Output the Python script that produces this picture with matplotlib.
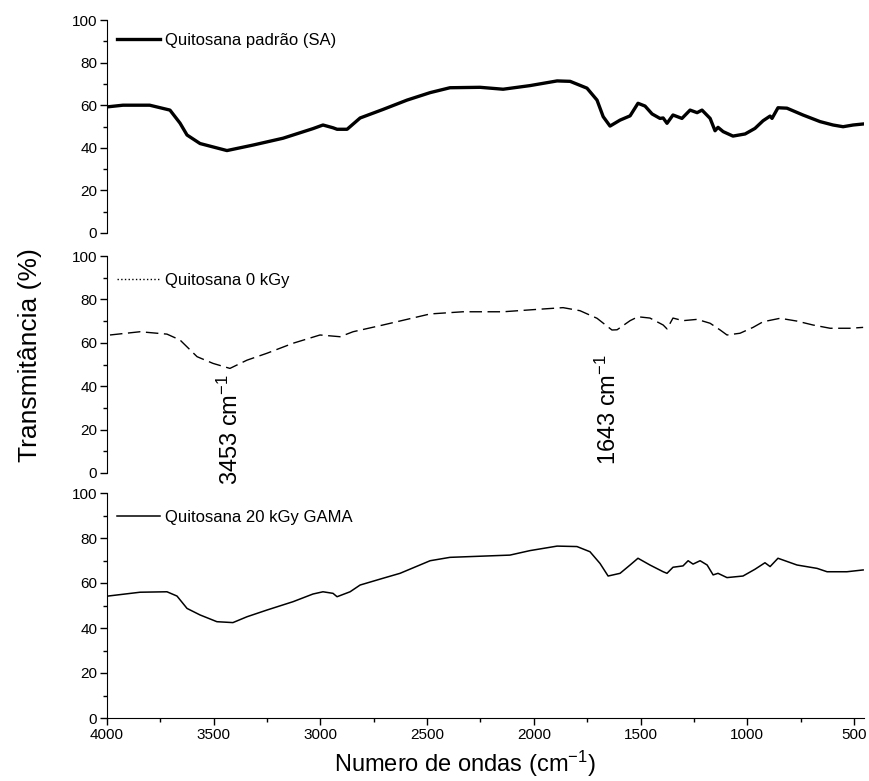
import matplotlib
matplotlib.use("Agg")
import matplotlib.pyplot as plt
from matplotlib.lines import Line2D
from matplotlib.ticker import MultipleLocator

plt.rcParams['font.family'] = ['Liberation Sans', 'DejaVu Sans']
plt.rcParams['mathtext.fontset'] = 'custom'
plt.rcParams['mathtext.rm'] = 'Liberation Sans'
plt.rcParams['mathtext.it'] = 'Liberation Sans'

# Quitosana padrão (SA)
wn_sa = [4000, 3925, 3800, 3705, 3658, 3625, 3564, 3438, 3315, 3175, 3035, 2988, 2941,
         2922, 2875, 2814, 2707, 2594, 2486, 2393, 2252, 2144, 2018, 1891, 1830, 1751,
         1704, 1675, 1643, 1596, 1549, 1512, 1479, 1446, 1409, 1394, 1376, 1348, 1306,
         1268, 1235, 1212, 1174, 1151, 1137, 1113, 1067, 1010, 964, 926, 893, 884, 856,
         814, 739, 659, 598, 551, 504, 455]
t_sa = [59.2, 60.0, 60.0, 57.7, 51.6, 46.0, 42.0, 38.7, 41.3, 44.5, 49.0, 50.7, 49.4,
        48.7, 48.7, 54.0, 58.0, 62.4, 65.9, 68.2, 68.4, 67.5, 69.2, 71.4, 71.2, 68.0,
        62.4, 54.6, 50.2, 53.0, 55.0, 60.9, 59.6, 55.9, 53.8, 54.0, 51.5, 55.4, 53.8,
        57.7, 56.5, 57.7, 53.8, 48.0, 49.6, 47.6, 45.5, 46.5, 49.1, 52.7, 54.9, 53.8, 58.8,
        58.6, 55.4, 52.3, 50.7, 49.9, 50.7, 51.2]

# Quitosana 0 kGy
wn_0 = [3986, 3845, 3719, 3658, 3578, 3503, 3424, 3344, 3250, 3128, 3002, 2908, 2847,
        2707, 2486, 2332, 2144, 1985, 1863, 1784, 1704, 1634, 1610, 1549, 1512, 1456,
        1394, 1376, 1348, 1301, 1235, 1174, 1127, 1095, 1034, 973, 926, 846, 767, 692,
        612, 519, 457]
t_0 = [63.6, 65.1, 64.0, 61.3, 53.6, 50.5, 48.2, 52.0, 55.2, 59.8, 63.6, 62.8, 65.1,
       68.2, 73.3, 74.3, 74.3, 75.4, 76.2, 74.8, 71.3, 65.9, 66.0, 70.2, 72.0, 71.4,
       68.2, 66.4, 71.4, 70.2, 70.8, 69.0, 65.9, 63.6, 64.4, 67.1, 69.7, 71.3, 70.0, 68.2,
       66.7, 66.7, 67.1]

# Quitosana 20 kGy GAMA
wn_20 = [3995, 3845, 3719, 3672, 3625, 3564, 3485, 3410, 3344, 3250, 3128, 3035, 2988,
         2941, 2922, 2861, 2814, 2707, 2627, 2486, 2393, 2112, 2018, 1891, 1798, 1737,
         1690, 1652, 1596, 1549, 1512, 1456, 1394, 1376, 1348, 1301, 1277, 1254, 1221,
         1188, 1160, 1137, 1095, 1020, 964, 917, 893, 856, 767, 673, 626, 533, 457]
t_20 = [54.2, 55.9, 56.1, 54.2, 48.7, 45.8, 42.8, 42.4, 45.0, 48.0, 51.7, 55.1, 56.1,
        55.4, 53.9, 56.1, 59.1, 62.1, 64.3, 69.9, 71.4, 72.4, 74.4, 76.4, 76.2, 73.9,
        68.7, 63.1, 64.3, 68.0, 71.0, 68.0, 65.0, 64.3, 67.0, 67.6, 69.9, 68.4, 69.9,
        68.0, 63.6, 64.3, 62.4, 63.1, 66.1, 69.0, 67.3, 71.0, 68.0, 66.5, 65.0, 65.0, 65.8]

labels = ['Quitosana padrão (SA)', 'Quitosana 0 kGy', 'Quitosana 20 kGy GAMA']

W, H = 870, 781
fig = plt.figure(figsize=(8.7, 7.81), dpi=100)

def box(top, bottom):
    return [107 / W, 1 - bottom / H, (864 - 107) / W, (bottom - top) / H]

ax1 = fig.add_axes(box(20, 233))
ax2 = fig.add_axes(box(256, 473))
ax3 = fig.add_axes(box(493, 718))

ax1.plot(wn_sa, t_sa, color='black', lw=2.4)
ax2.plot(wn_0, t_0, color='black', lw=1.0, dashes=(9, 4))
ax3.plot(wn_20, t_20, color='black', lw=1.1)

handles = [Line2D([], [], color='black', lw=2.4),
           Line2D([], [], color='black', lw=1.0, ls=':'),
           Line2D([], [], color='black', lw=1.1)]

for ax, h, lab, top in zip([ax1, ax2, ax3], handles, labels, [0.985, 0.97, 0.97]):
    ax.set_xlim(4000, 453)
    ax.set_ylim(0, 100)
    ax.yaxis.set_major_locator(MultipleLocator(20))
    ax.yaxis.set_minor_locator(MultipleLocator(10))
    ax.xaxis.set_major_locator(MultipleLocator(500))
    ax.xaxis.set_minor_locator(MultipleLocator(250))
    ax.spines['top'].set_visible(False)
    ax.spines['right'].set_visible(False)
    ax.tick_params(axis='both', which='major', direction='out', length=5,
                   width=1, labelsize=11, pad=2)
    ax.tick_params(axis='both', which='minor', direction='out', length=3, width=1)
    ax.patch.set_alpha(0)
    ax.legend([h], [lab], loc='upper left', bbox_to_anchor=(0.0, top),
              frameon=False, handlelength=2.6, handletextpad=0.3,
              borderaxespad=0.2, fontsize=12)

for ax in (ax1, ax2):
    ax.spines['bottom'].set_visible(False)
    ax.tick_params(axis='x', which='both', bottom=False, labelbottom=False)

ax2.text(3424, -5.5, '3453 cm$^{-1}$', rotation=90, ha='center', va='bottom',
         fontsize=17, clip_on=False)
ax2.text(1652, 3.7, '1643 cm$^{-1}$', rotation=90, ha='center', va='bottom',
         fontsize=17, clip_on=False)

fig.text(30 / W, 1 - 355 / H, 'Transmitância (%)', rotation=90, ha='center',
         va='center', fontsize=19)
fig.text(465 / W, 1 - 764 / H, 'Numero de ondas (cm$^{-1}$)', ha='center',
         va='center', fontsize=17)

fig.savefig('out.png', dpi=100)
